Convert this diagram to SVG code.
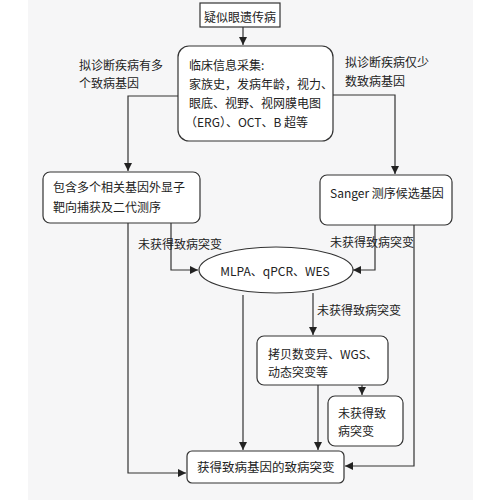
<svg xmlns="http://www.w3.org/2000/svg" width="500" height="500" viewBox="0 0 500 500">
<defs>
<marker id="ah" viewBox="0 0 10 10" refX="10" refY="5" markerWidth="8" markerHeight="8" markerUnits="userSpaceOnUse" orient="auto">
<path d="M0,0 L10,5 L0,10 z" fill="#222"/>
</marker>
<style>
.bx{fill:#fff;stroke:#333;stroke-width:1.2}
.ln{fill:none;stroke:#333;stroke-width:1.2;marker-end:url(#ah)}
text{font-family:"Noto Sans CJK SC","Noto Sans",sans-serif;font-size:12px;fill:#222;dominant-baseline:central}
</style>
</defs>
<rect x="0" y="0" width="500" height="500" fill="#fff"/>
<rect x="28" y="0" width="445" height="500" fill="#f6f6f7"/>
<g id="connectors">
<path class="ln" d="M243,27 V45"/>
<path class="ln" d="M178,96 H128 V171"/>
<path class="ln" d="M333,95 H395 V174"/>
<path class="ln" d="M171,223 V270 H198"/>
<path class="ln" d="M375,225 V270 H353"/>
<path class="ln" d="M128,223 V473 H186"/>
<path class="ln" d="M414,225 V466 H345"/>
<path class="ln" d="M243,295 V450"/>
<path class="ln" d="M313,293 V335"/>
<path class="ln" d="M318,385 V450"/>
<path class="ln" d="M362,385 V395"/>
</g>
<g id="labels">
<text x="79" y="64">拟诊断疾病有多</text>
<text x="79" y="82">个致病基因</text>
<text x="345" y="61">拟诊断疾病仅少</text>
<text x="345" y="80">数致病基因</text>
<text x="138" y="243">未获得致病突变</text>
<text x="330" y="241">未获得致病突变</text>
<text x="317" y="309">未获得致病突变</text>
</g>
<g id="n-suspect">
<rect class="bx" x="200" y="3" width="80" height="24"/>
<text x="240" y="16" text-anchor="middle">疑似眼遗传病</text>
</g>
<g id="n-clinical">
<rect class="bx" x="178" y="46" width="155" height="95" rx="11"/>
<text x="189" y="64">临床信息采集:</text>
<text x="189" y="83">家族史，发病年龄，视力、</text>
<text x="189" y="102">眼底、视野、视网膜电图</text>
<text x="185" y="121">（ERG）、OCT、B 超等</text>
</g>
<g id="n-panel">
<rect class="bx" x="43" y="172" width="157" height="51" rx="7"/>
<text x="53" y="186">包含多个相关基因外显子</text>
<text x="53" y="206">靶向捕获及二代测序</text>
</g>
<g id="n-sanger">
<rect class="bx" x="320" y="175" width="132" height="50" rx="7"/>
<text x="330" y="192">Sanger 测序候选基因</text>
</g>
<g id="n-mlpa">
<ellipse class="bx" cx="276" cy="270" rx="77" ry="23"/>
<text x="275" y="270" text-anchor="middle">MLPA、qPCR、WES</text>
</g>
<g id="n-cnv">
<rect class="bx" x="257" y="336" width="131" height="49" rx="7"/>
<text x="268" y="353">拷贝数变异、WGS、</text>
<text x="268" y="371">动态突变等</text>
</g>
<g id="n-none">
<rect class="bx" x="328" y="396" width="75" height="50" rx="7"/>
<text x="338" y="412">未获得致</text>
<text x="338" y="430">病突变</text>
</g>
<g id="n-found">
<rect class="bx" x="187" y="451" width="157" height="32" rx="5"/>
<text x="197" y="466" style="font-size:12.5px">获得致病基因的致病突变</text>
</g>
</svg>
